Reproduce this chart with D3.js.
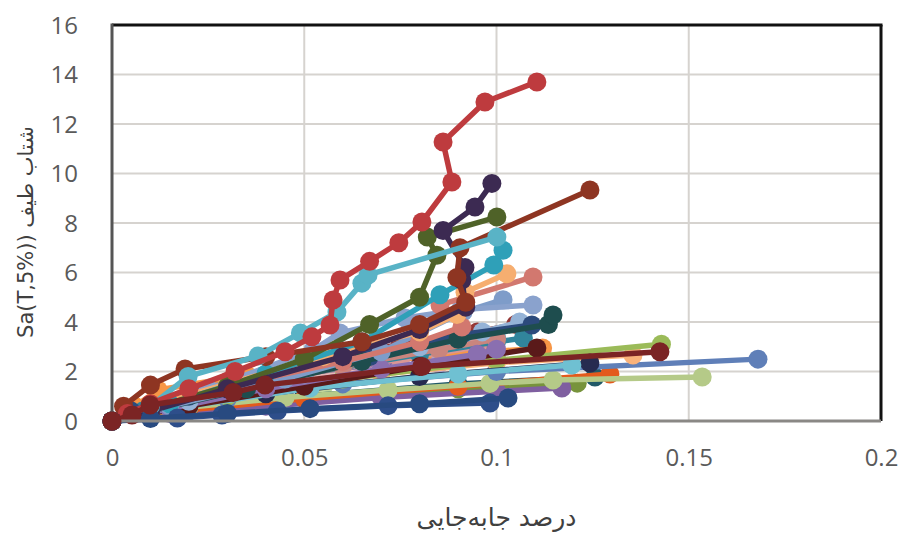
<!DOCTYPE html>
<html>
<head>
<meta charset="utf-8">
<script src="https://cdn.jsdelivr.net/npm/d3@7/dist/d3.min.js"></script>
<style>
  html, body { margin: 0; padding: 0; background: #fff; }
  svg { display: block; }
</style>
</head>
<body>
<svg id="chart" width="901" height="536"></svg>
<script>
// ---- data ----
const xTicks = [0, 0.05, 0.1, 0.15, 0.2];
const xTickLabels = ["0", "0.05", "0.1", "0.15", "0.2"];
const yTicks = [0, 2, 4, 6, 8, 10, 12, 14, 16];
const yTickLabels = ["0", "2", "4", "6", "8", "10", "12", "14", "16"];
const xTitle = "درصد جابه‌جایی";
const yTitle = "شتاب طیف (Sa(T,5%)";

const series = [
  { name: "s35", x: [0, 0.01, 0.03, 0.055, 0.075, 0.095, 0.105], y: [0, 0.6, 1.6, 2.5, 3.1, 3.6, 3.9] },
  { name: "s36", x: [0, 0.012, 0.035, 0.06, 0.085, 0.1], y: [0, 0.55, 1.5, 2.3, 3.0, 3.4] },
  { name: "s37", x: [0, 0.01, 0.03, 0.06, 0.08, 0.096], y: [0, 0.45, 1.1, 2.0, 2.6, 3.0] },
  { name: "s38", x: [0, 0.008, 0.02, 0.045, 0.07, 0.09], y: [0, 0.5, 1.0, 1.6, 2.1, 2.4] },
  { name: "s01", x: [0, 0.006, 0.012, 0.035, 0.06, 0.09, 0.112], y: [0, 0.6, 1.25, 1.86, 2.3, 2.7, 2.95] },
  { name: "s02", x: [0, 0.01, 0.025, 0.05, 0.075, 0.095], y: [0, 0.5, 1.2, 1.9, 2.5, 3.0] },
  { name: "s03", x: [0, 0.01, 0.03, 0.06, 0.085, 0.1], y: [0, 0.4, 1.0, 1.7, 2.3, 2.6] },
  { name: "s04", x: [0, 0.012, 0.03, 0.055, 0.08, 0.1], y: [0, 0.45, 0.9, 1.4, 1.8, 2.0] },
  { name: "s05", x: [0, 0.008, 0.025, 0.05, 0.08, 0.1, 0.107], y: [0, 0.4, 1.1, 1.9, 2.7, 3.2, 3.35] },
  { name: "s06", x: [0, 0.02, 0.05, 0.09, 0.1256], y: [0, 0.5, 1.0, 1.5, 1.78] },
  { name: "s07", x: [0, 0.02, 0.05, 0.09, 0.121], y: [0, 0.4, 0.9, 1.3, 1.53] },
  { name: "s08", x: [0, 0.015, 0.04, 0.07, 0.1, 0.117], y: [0, 0.3, 0.6, 0.95, 1.2, 1.33] },
  { name: "s09", x: [0, 0.02, 0.05, 0.09, 0.1295], y: [0, 0.45, 0.9, 1.4, 1.9] },
  { name: "s10", x: [0, 0.01, 0.02, 0.045, 0.0718, 0.0983, 0.1147, 0.1535], y: [0, 0.3, 0.55, 0.95, 1.25, 1.52, 1.66, 1.78] },
  { name: "s11", x: [0, 0.01, 0.03, 0.06, 0.1, 0.168], y: [0, 0.4, 0.9, 1.5, 2.0, 2.5] },
  { name: "s12", x: [0, 0.01, 0.035, 0.07, 0.1, 0.1355], y: [0, 0.5, 1.2, 1.9, 2.35, 2.67] },
  { name: "s13", x: [0, 0.01, 0.03, 0.06, 0.1, 0.1429], y: [0, 0.45, 1.0, 1.7, 2.45, 3.1] },
  { name: "s14", x: [0, 0.01, 0.04, 0.08, 0.1243], y: [0, 0.4, 1.1, 1.8, 2.34] },
  { name: "s15", x: [0, 0.01, 0.02, 0.0515, 0.09, 0.1196], y: [0, 0.35, 0.6, 1.33, 1.9, 2.26] },
  { name: "s16", x: [0, 0.02, 0.05, 0.08, 0.1105], y: [0, 0.6, 1.4, 2.2, 2.95] },
  { name: "s17", x: [0, 0.015, 0.035, 0.06, 0.085, 0.1], y: [0, 0.7, 1.4, 2.2, 2.9, 3.3] },
  { name: "s18", x: [0, 0.015, 0.04, 0.07, 0.095, 0.1], y: [0, 0.5, 1.3, 2.1, 2.7, 2.9] },
  { name: "s19", x: [0, 0.02, 0.05, 0.08, 0.0963, 0.106], y: [0, 0.8, 1.9, 3.0, 3.6, 4.0] },
  { name: "s20", x: [0, 0.005, 0.02, 0.045, 0.067, 0.091, 0.1092], y: [0, 0.4, 1.0, 1.9, 2.6, 3.5, 3.88] },
  { name: "s21", x: [0, 0.01, 0.035, 0.065, 0.09, 0.1135, 0.1147], y: [0, 0.4, 1.3, 2.4, 3.3, 3.9, 4.28] },
  { name: "s22", x: [0, 0.015, 0.045, 0.07, 0.0913, 0.1017], y: [0, 0.6, 1.7, 2.8, 4.4, 4.9] },
  { name: "s23", x: [0, 0.01, 0.025, 0.0523, 0.0593, 0.0762, 0.0906, 0.1095], y: [0, 0.5, 1.3, 2.87, 3.56, 4.16, 4.5, 4.69] },
  { name: "s24", x: [0, 0.01, 0.03, 0.06, 0.08, 0.091, 0.0853, 0.1095], y: [0, 0.5, 1.4, 2.4, 3.2, 3.8, 4.69, 5.82] },
  { name: "s25", x: [0, 0.01, 0.03, 0.055, 0.08, 0.0897, 0.0918, 0.1027], y: [0, 0.6, 1.5, 2.6, 3.6, 4.3, 5.2, 5.95] },
  { name: "s26", x: [0, 0.015, 0.04, 0.065, 0.0853, 0.0993, 0.1017], y: [0, 0.7, 1.9, 3.2, 5.1, 6.3, 6.9] },
  { name: "s27", x: [0, 0.01, 0.03, 0.05, 0.067, 0.08, 0.0845, 0.082, 0.1001], y: [0, 0.5, 1.4, 2.5, 3.9, 5.0, 6.7, 7.43, 8.24] },
  { name: "s28", x: [0, 0.01, 0.03, 0.06, 0.08, 0.092, 0.091, 0.0918, 0.0861, 0.0944, 0.0988], y: [0, 0.4, 1.3, 2.6, 3.7, 4.6, 5.7, 6.2, 7.7, 8.65, 9.6] },
  { name: "s29", x: [0, 0.003, 0.01, 0.019, 0.04, 0.065, 0.08, 0.092, 0.0897, 0.0905, 0.1243], y: [0, 0.6, 1.45, 2.1, 2.6, 3.2, 3.9, 4.8, 5.8, 7.0, 9.33] },
  { name: "s30", x: [0, 0.01, 0.0198, 0.038, 0.049, 0.0585, 0.065, 0.0666, 0.1001], y: [0, 0.6, 1.8, 2.63, 3.56, 4.4, 5.57, 5.9, 7.43] },
  { name: "s31", x: [0, 0.004, 0.01, 0.02, 0.032, 0.045, 0.052, 0.0567, 0.0575, 0.0593, 0.067, 0.0746, 0.0806, 0.0884, 0.0861, 0.097, 0.1105], y: [0, 0.3, 0.7, 1.3, 2.0, 2.8, 3.4, 3.88, 4.89, 5.7, 6.45, 7.2, 8.04, 9.66, 11.27, 12.89, 13.7] },
  { name: "s32", x: [0, 0.017, 0.0286, 0.043, 0.0718, 0.0983], y: [0, 0.12, 0.24, 0.4, 0.62, 0.73] },
  { name: "s33", x: [0, 0.01, 0.03, 0.0515, 0.08, 0.103], y: [0, 0.1, 0.3, 0.5, 0.7, 0.93] },
  { name: "s34", x: [0, 0.0052, 0.0099, 0.0315, 0.0398, 0.0806, 0.1425], y: [0, 0.24, 0.65, 1.15, 1.45, 2.2, 2.8] }
];

const colors = [
  "#953735", "#4BACC6", "#8064A2", "#E6B9B8",
  "#F79646", "#DA9694", "#B3A2C7", "#C3D69B", "#31859C", "#215968", "#77933C", "#7F5FA0",
  "#E35A1C", "#B5CA88", "#5F7FB8", "#F9B27A", "#9BBB59", "#262B50", "#6FC0D2", "#5A1A1A",
  "#C9857E", "#8A6FB0", "#95B3D7", "#2C4A7C", "#1E4D4E", "#7E9CC9", "#8AA2CD", "#D2786F",
  "#F6AE70", "#2FA0B8", "#4F6228", "#3C2A52", "#8E3522", "#59B3C6", "#BE3B3E", "#2E4E8A",
  "#284A80", "#7B2424"
];

// ---- chart ----
const svg = d3.select("#chart");
const x = d3.scaleLinear().domain([0, 0.2]).range([112, 881]);
const y = d3.scaleLinear().domain([0, 16]).range([421, 25]);

// gridlines
const grid = svg.append("g");
grid.selectAll("line.h").data(yTicks.slice(1)).enter().append("line")
  .attr("x1", x(0)).attr("x2", x(0.2))
  .attr("y1", d => y(d)).attr("y2", d => y(d))
  .attr("stroke", "#D6D3CF").attr("stroke-width", 2);
grid.selectAll("line.v").data(xTicks.slice(1)).enter().append("line")
  .attr("y1", y(0)).attr("y2", y(16))
  .attr("x1", d => x(d)).attr("x2", d => x(d))
  .attr("stroke", "#D6D3CF").attr("stroke-width", 2);

// axes (labels only)
const yAxis = d3.axisLeft(y).tickValues(yTicks).tickFormat((d, i) => yTickLabels[i]).tickSize(0).tickPadding(34);
const gy = svg.append("g").attr("transform", `translate(${x(0)},0)`).call(yAxis);
gy.select(".domain").remove();
gy.selectAll("text").attr("font-family", "'Open Sans', 'Segoe UI', sans-serif").attr("font-size", 24).attr("fill", "#5a5a5a").attr("dy", "0.35em");

const xAxis = d3.axisBottom(x).tickValues(xTicks).tickFormat((d, i) => xTickLabels[i]).tickSize(0).tickPadding(28);
const gx = svg.append("g").attr("transform", `translate(0,${y(0)})`).call(xAxis);
gx.select(".domain").remove();
gx.selectAll("text").attr("font-family", "'Open Sans', 'Segoe UI', sans-serif").attr("font-size", 24).attr("fill", "#5a5a5a");

// series
const line = d3.line().x(d => x(d[0])).y(d => y(d[1]));
const plot = svg.append("g");
series.forEach((s, i) => {
  const pts = s.x.map((v, j) => [v, s.y[j]]);
  const g = plot.append("g");
  g.append("path").datum(pts).attr("d", line)
    .attr("fill", "none").attr("stroke", colors[i]).attr("stroke-width", 5.5)
    .attr("stroke-linejoin", "round");
  g.selectAll("circle").data(pts).enter().append("circle")
    .attr("cx", d => x(d[0])).attr("cy", d => y(d[1])).attr("r", 9.5)
    .attr("fill", colors[i]);
});

// frame
svg.append("line").attr("x1", x(0)).attr("x2", x(0.2) + 1.5).attr("y1", y(16)).attr("y2", y(16)).attr("stroke", "#111").attr("stroke-width", 3);
svg.append("line").attr("x1", x(0.2)).attr("x2", x(0.2)).attr("y1", y(16)).attr("y2", y(0)).attr("stroke", "#111").attr("stroke-width", 3);
svg.append("line").attr("x1", x(0)).attr("x2", x(0)).attr("y1", y(16) - 1.5).attr("y2", y(0)).attr("stroke", "#555").attr("stroke-width", 3);
svg.append("line").attr("x1", x(0)).attr("x2", x(0.2)).attr("y1", y(0)).attr("y2", y(0)).attr("stroke", "#8a8885").attr("stroke-width", 3);

// redraw origin marker of last series on top of frame
const last = series[series.length - 1];
svg.append("circle").attr("cx", x(last.x[0])).attr("cy", y(last.y[0])).attr("r", 9.5).attr("fill", colors[colors.length - 1]);

// titles
svg.append("text").attr("x", (x(0) + x(0.2)) / 2).attr("y", 526)
  .attr("text-anchor", "middle").attr("direction", "rtl")
  .attr("font-family", "'DejaVu Sans', sans-serif").attr("font-size", 25).attr("fill", "#404040")
  .text(xTitle);
svg.append("text").attr("transform", "translate(33,232) rotate(-90)")
  .attr("text-anchor", "middle").attr("direction", "rtl")
  .attr("font-family", "'DejaVu Sans', sans-serif").attr("font-size", 21).attr("fill", "#404040")
  .text(yTitle);
</script>
</body>
</html>
